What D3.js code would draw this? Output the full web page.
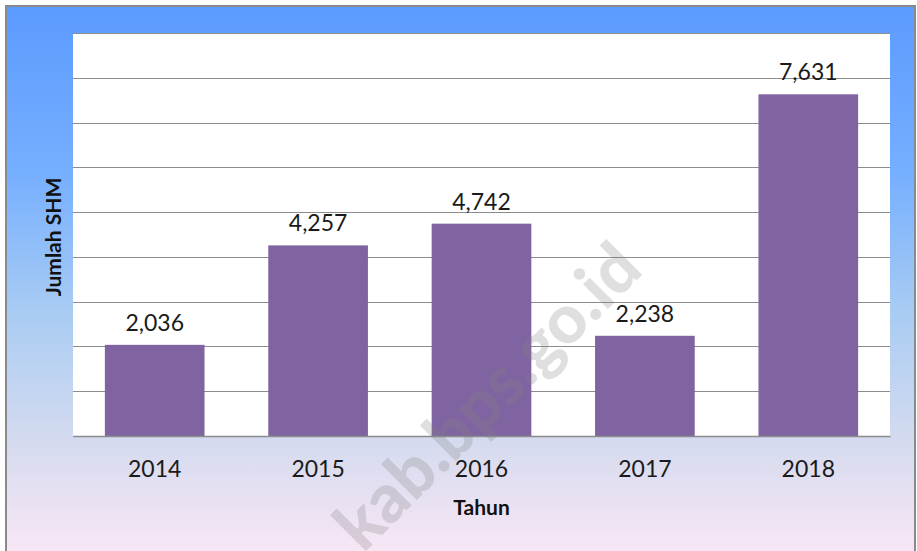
<!DOCTYPE html>
<html>
<head>
<meta charset="utf-8">
<script src="https://cdn.jsdelivr.net/npm/d3@7"></script>
<style>
  body { margin: 0; background: #fff; }
  svg { display: block; }
</style>
</head>
<body>
<svg id="chart" width="917" height="551"></svg>
<script>
// chart data
var years = ["2014", "2015", "2016", "2017", "2018"];
var jumlahShm = [2036, 4257, 4742, 2238, 7631];
var yTicks = [0, 1000, 2000, 3000, 4000, 5000, 6000, 7000, 8000, 9000];
var xTitle = "Tahun";
var yTitle = "Jumlah SHM";
var watermark = "kab.bps.go.id";

var svg = d3.select("#chart");
var width = 917, height = 551;
var margin = { left: 73, right: 27, top: 33, bottom: 115 };
var plotW = width - margin.left - margin.right;
var plotH = height - margin.top - margin.bottom;

// background gradient
var defs = svg.append("defs");
var grad = defs.append("linearGradient").attr("id", "bgGrad")
  .attr("x1", 0).attr("y1", 0).attr("x2", 0).attr("y2", 1);
[[0, "#5b9bff"], [0.3, "#76afff"], [0.55, "#a9ccf3"], [0.8, "#d9dcef"], [1, "#fce8f6"]]
  .forEach(s => grad.append("stop").attr("offset", s[0]).attr("stop-color", s[1]));

svg.append("rect")
  .attr("x", 6).attr("y", 6)
  .attr("width", 909).attr("height", 560)
  .attr("fill", "url(#bgGrad)")
  .attr("stroke", "#8a8a8a").attr("stroke-width", 2);

var g = svg.append("g").attr("transform", "translate(" + margin.left + "," + margin.top + ")");

g.append("rect").attr("width", plotW).attr("height", plotH).attr("fill", "#fff");

var x = d3.scaleBand().domain(years).range([0, plotW]).paddingInner(0.39).paddingOuter(0.195);
var y = d3.scaleLinear().domain([0, 9000]).range([plotH, 0]);

// gridlines
g.append("g").selectAll("line").data(yTicks).enter().append("line")
  .attr("x1", 0).attr("x2", plotW)
  .attr("y1", d => Math.round(y(d)) + 0.5).attr("y2", d => Math.round(y(d)) + 0.5)
  .attr("stroke", "#8c8c8c").attr("stroke-width", 1.2);

// bars
g.append("g").selectAll("rect").data(jumlahShm).enter().append("rect")
  .attr("x", (d, i) => x(years[i]))
  .attr("y", d => y(d))
  .attr("width", x.bandwidth())
  .attr("height", d => plotH - y(d))
  .attr("fill", "#8064a2");

// value labels
g.append("g").selectAll("text").data(jumlahShm).enter().append("text")
  .attr("x", (d, i) => x(years[i]) + x.bandwidth() / 2)
  .attr("y", d => y(d) - 14)
  .attr("text-anchor", "middle")
  .attr("font-family", "Lato, sans-serif")
  .attr("font-size", 23)
  .attr("fill", "#1a1a1a")
  .text(d => d3.format(",")(d));

// x axis labels
var xAxis = g.append("g").attr("transform", "translate(0," + plotH + ")")
  .call(d3.axisBottom(x).tickSize(0).tickPadding(25));
xAxis.select(".domain").attr("stroke", "#8c8c8c").attr("stroke-width", 1.5);
xAxis.selectAll("text")
  .attr("font-family", "Lato, sans-serif")
  .attr("font-size", 23)
  .attr("fill", "#1a1a1a");

// axis titles
svg.append("text")
  .attr("x", margin.left + plotW / 2).attr("y", 515)
  .attr("text-anchor", "middle")
  .attr("font-family", "Lato, sans-serif")
  .attr("font-weight", "bold")
  .attr("font-size", 21)
  .attr("fill", "#111")
  .text(xTitle);

svg.append("text")
  .attr("transform", "translate(61,237) rotate(-90)")
  .attr("text-anchor", "middle")
  .attr("font-family", "Lato, sans-serif")
  .attr("font-weight", "bold")
  .attr("font-size", 21)
  .attr("fill", "#111")
  .text(yTitle);

// watermark
svg.append("text")
  .attr("transform", "translate(645,272) rotate(-45)")
  .attr("text-anchor", "end")
  .attr("font-family", "Lato, sans-serif")
  .attr("font-weight", "900")
  .attr("font-size", 68)
  .attr("fill", "rgba(128,128,128,0.25)")
  .text(watermark);
</script>
</body>
</html>
